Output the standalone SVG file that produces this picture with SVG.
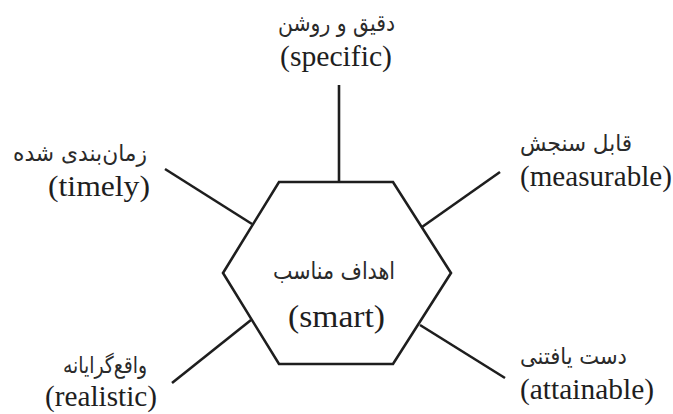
<svg xmlns="http://www.w3.org/2000/svg" width="673" height="414" viewBox="0 0 673 414">
<style>
.ln{stroke:#1e1e1e;stroke-width:2.6;fill:none;stroke-linecap:butt;stroke-linejoin:miter}
.fa{font-family:"DejaVu Sans","Noto Sans",sans-serif;font-size:23px;fill:#2a2a2a;text-anchor:middle}
.en{font-family:"Liberation Serif","Times New Roman",serif;font-size:29px;fill:#1e1e1e;text-anchor:middle}
</style>
<rect width="673" height="414" fill="#ffffff"/>
<g id="connectors">
<line class="ln" x1="339" y1="85" x2="339" y2="182"/>
<line class="ln" x1="165" y1="169" x2="252" y2="224"/>
<line class="ln" x1="500" y1="172" x2="422" y2="227"/>
<line class="ln" x1="172" y1="383" x2="251" y2="320"/>
<line class="ln" x1="505" y1="378" x2="420" y2="325"/>
</g>
<g id="center">
<polygon class="ln" points="279,182 393,182 451,273 393,364 279,364 223,273"/>
<text class="fa" x="334" y="279" textLength="122" lengthAdjust="spacingAndGlyphs" style="font-size:24px">اهداف مناسب</text>
<text class="en" x="336.5" y="327" textLength="97" lengthAdjust="spacingAndGlyphs" style="font-size:31px">(smart)</text>
</g>
<g id="specific">
<text class="fa" x="336.5" y="31" textLength="117" lengthAdjust="spacingAndGlyphs">دقیق و روشن</text>
<text class="en" x="336" y="66" textLength="112" lengthAdjust="spacingAndGlyphs">(specific)</text>
</g>
<g id="timely">
<text class="fa" x="80" y="161" textLength="134" lengthAdjust="spacingAndGlyphs">زمان‌بندی شده</text>
<text class="en" x="99" y="196" textLength="102" lengthAdjust="spacingAndGlyphs">(timely)</text>
</g>
<g id="measurable">
<text class="fa" x="576" y="151" textLength="112" lengthAdjust="spacingAndGlyphs">قابل سنجش</text>
<text class="en" x="596" y="186" textLength="152" lengthAdjust="spacingAndGlyphs">(measurable)</text>
</g>
<g id="realistic">
<text class="fa" x="105" y="373" textLength="84" lengthAdjust="spacingAndGlyphs">واقع‌گرایانه</text>
<text class="en" x="101" y="406" textLength="112" lengthAdjust="spacingAndGlyphs">(realistic)</text>
</g>
<g id="attainable">
<text class="fa" x="573.5" y="364" textLength="107" lengthAdjust="spacingAndGlyphs">دست یافتنی</text>
<text class="en" x="587" y="399" textLength="134" lengthAdjust="spacingAndGlyphs">(attainable)</text>
</g>
</svg>
